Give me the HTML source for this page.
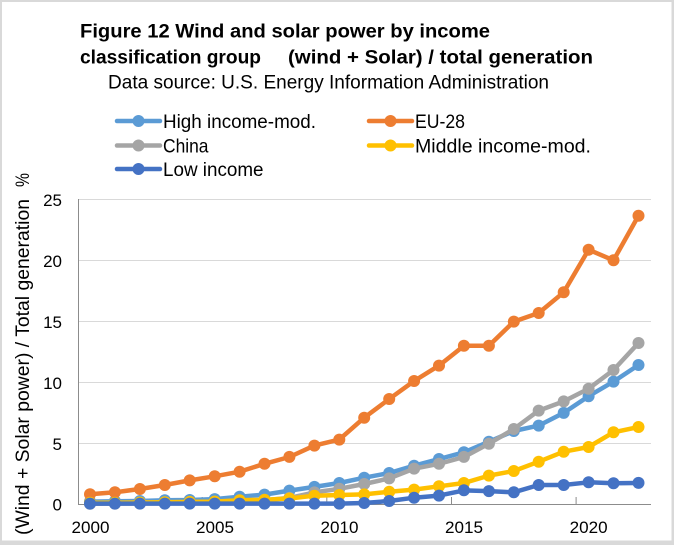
<!DOCTYPE html>
<html><head><meta charset="utf-8"><style>
html,body{margin:0;padding:0;background:#fff;}
svg{display:block;}
text{font-family:"Liberation Sans",Arial,sans-serif;fill:#000;}
</style></head><body>
<svg width="674" height="545" viewBox="0 0 674 545" xmlns="http://www.w3.org/2000/svg">
<rect x="0" y="0" width="674" height="545" fill="#d9d9d9"/>
<rect x="2" y="2" width="669.5" height="538.5" fill="#fff"/>

<!-- Title -->
<text x="80" y="37.5" font-size="19" font-weight="bold" textLength="410" lengthAdjust="spacingAndGlyphs">Figure 12  Wind and solar power by income</text>
<text x="80" y="63.5" font-size="19" font-weight="bold" textLength="181" lengthAdjust="spacingAndGlyphs">classification group</text>
<text x="288" y="63.5" font-size="19" font-weight="bold" textLength="305" lengthAdjust="spacingAndGlyphs">(wind + Solar) / total generation</text>
<text x="108" y="88.5" font-size="19" textLength="441" lengthAdjust="spacingAndGlyphs">Data source: U.S. Energy Information Administration</text>

<!-- Legend -->
<g stroke-width="4.5" stroke-linecap="round">
<line x1="117" y1="121" x2="160" y2="121" stroke="#5B9BD5"/>
<line x1="117" y1="145.5" x2="160" y2="145.5" stroke="#A5A5A5"/>
<line x1="117" y1="169" x2="160" y2="169" stroke="#4472C4"/>
<line x1="369" y1="121" x2="412" y2="121" stroke="#ED7D31"/>
<line x1="369" y1="145.5" x2="412" y2="145.5" stroke="#FFC000"/>
</g>
<circle cx="138.5" cy="121" r="6" fill="#5B9BD5"/>
<circle cx="138.5" cy="145.5" r="6" fill="#A5A5A5"/>
<circle cx="138.5" cy="169" r="6" fill="#4472C4"/>
<circle cx="390.5" cy="121" r="6" fill="#ED7D31"/>
<circle cx="390.5" cy="145.5" r="6" fill="#FFC000"/>
<text x="163" y="128" font-size="19.5" textLength="153" lengthAdjust="spacingAndGlyphs">High income-mod.</text>
<text x="163" y="152.5" font-size="19.5" textLength="45.5" lengthAdjust="spacingAndGlyphs">China</text>
<text x="163" y="176" font-size="19.5" textLength="100.5" lengthAdjust="spacingAndGlyphs">Low income</text>
<text x="415" y="128" font-size="19.5" textLength="50" lengthAdjust="spacingAndGlyphs">EU-28</text>
<text x="415" y="152.5" font-size="19.5" textLength="176" lengthAdjust="spacingAndGlyphs">Middle income-mod.</text>

<!-- Y axis label -->
<text transform="translate(29,535) rotate(-90)" x="0" y="0" font-size="19" textLength="336" lengthAdjust="spacingAndGlyphs">(Wind + Solar power) / Total generation</text>
<text transform="translate(29,187) rotate(-90)" x="0" y="0" font-size="19" textLength="14" lengthAdjust="spacingAndGlyphs">%</text>

<!-- Gridlines -->
<g stroke="#d9d9d9" stroke-width="1">
<line x1="78" y1="199.5" x2="651" y2="199.5"/>
<line x1="78" y1="260.5" x2="651" y2="260.5"/>
<line x1="78" y1="321.5" x2="651" y2="321.5"/>
<line x1="78" y1="382.5" x2="651" y2="382.5"/>
<line x1="78" y1="443.5" x2="651" y2="443.5"/>
</g>
<!-- Axes -->
<g stroke="#8c8c8c" stroke-width="1">
<line x1="78.5" y1="199" x2="78.5" y2="504.5"/>
<line x1="78" y1="504.5" x2="651" y2="504.5"/>
<line x1="202.2" y1="497" x2="202.2" y2="504.5"/>
<line x1="326.8" y1="497" x2="326.8" y2="504.5"/>
<line x1="451.5" y1="497" x2="451.5" y2="504.5"/>
<line x1="576.1" y1="497" x2="576.1" y2="504.5"/>
</g>

<!-- Y tick labels -->
<g font-size="17" text-anchor="end">
<text x="62" y="206">25</text>
<text x="62" y="267">20</text>
<text x="62" y="328">15</text>
<text x="62" y="389">10</text>
<text x="62" y="450">5</text>
<text x="62" y="510.5">0</text>
</g>
<!-- X tick labels -->
<g font-size="17" text-anchor="middle">
<text x="90.5" y="533" textLength="38" lengthAdjust="spacingAndGlyphs">2000</text>
<text x="215" y="533" textLength="38" lengthAdjust="spacingAndGlyphs">2005</text>
<text x="339.5" y="533" textLength="38" lengthAdjust="spacingAndGlyphs">2010</text>
<text x="464" y="533" textLength="38" lengthAdjust="spacingAndGlyphs">2015</text>
<text x="588.6" y="533" textLength="38" lengthAdjust="spacingAndGlyphs">2020</text>
</g>

<!-- Series -->
<g fill="none" stroke-width="4.5" stroke-linejoin="round" stroke-linecap="round">
<polyline stroke="#5B9BD5" points="90,501.6 114.9,501.3 139.9,501 164.8,500.3 189.7,500 214.7,499.1 239.6,496.7 264.5,494.6 289.4,490.6 314.4,486.9 339.3,483 364.2,477.7 389.2,473 414.1,465.7 439,459 464,452.3 488.9,441.7 513.8,431 538.7,425.6 563.7,412.9 588.6,396.2 613.5,381.6 638.5,365"/>
<polyline stroke="#ED7D31" points="90,494.3 114.9,492.3 139.9,489 164.8,485 189.7,480.4 214.7,476.3 239.6,471.7 264.5,463.8 289.4,457 314.4,445.6 339.3,439.6 364.2,417.7 389.2,399 414.1,381 439,365.6 464,345.7 488.9,345.7 513.8,321.6 538.7,313 563.7,292.3 588.6,249.7 613.5,260.3 638.5,215.7"/>
<polyline stroke="#A5A5A5" points="90,503.8 114.9,503.6 139.9,503.4 164.8,503.2 189.7,502.8 214.7,502.4 239.6,501.6 264.5,500.3 289.4,497.9 314.4,492.4 339.3,488.8 364.2,484 389.2,478.4 414.1,468.7 439,463.8 464,457 488.9,443.7 513.8,429 538.7,410.6 563.7,401.4 588.6,388.7 613.5,370 638.5,343"/>
<polyline stroke="#FFC000" points="90,502.8 114.9,502.8 139.9,502.5 164.8,502.2 189.7,501.9 214.7,501.6 239.6,500.3 264.5,499.7 289.4,498.5 314.4,495.7 339.3,495 364.2,494.4 389.2,491.8 414.1,489.6 439,486.3 464,483 488.9,475.6 513.8,471 538.7,461.7 563.7,451.7 588.6,447 613.5,432.3 638.5,427"/>
<polyline stroke="#4472C4" points="90,503.6 114.9,503.6 139.9,503.6 164.8,503.6 189.7,503.6 214.7,503.6 239.6,503.6 264.5,503.6 289.4,503.6 314.4,503.6 339.3,503.6 364.2,503 389.2,501 414.1,497.7 439,495.6 464,490.4 488.9,491.1 513.8,492.3 538.7,485 563.7,485 588.6,482.3 613.5,483.3 638.5,482.9"/>
</g>
</svg>
<script>
(function(){
var xs=[];for(var i=0;i<23;i++)xs.push(90+24.93*i);
function Y(v){return 504-12.19*v;}
var S=[
["#5B9BD5",[0.2,0.22,0.25,0.3,0.33,0.4,0.6,0.77,1.1,1.4,1.72,2.16,2.54,3.14,3.69,4.24,5.11,5.99,6.43,7.47,8.84,10.04,11.4]],
["#ED7D31",[0.8,0.96,1.23,1.56,1.94,2.27,2.65,3.3,3.86,4.79,5.28,7.08,8.61,10.09,11.35,12.99,12.99,14.96,15.67,17.37,20.86,19.99,23.65]],
["#A5A5A5",[0.02,0.03,0.05,0.07,0.1,0.13,0.2,0.3,0.5,0.95,1.25,1.64,2.1,2.9,3.3,3.86,4.95,6.15,7.66,8.42,9.46,10.99,13.21]],
["#FFC000",[0.1,0.1,0.12,0.15,0.17,0.2,0.3,0.35,0.45,0.68,0.74,0.79,1.0,1.18,1.45,1.72,2.33,2.71,3.47,4.29,4.68,5.88,6.32]],
["#4472C4",[0.03,0.03,0.03,0.03,0.03,0.03,0.03,0.03,0.03,0.03,0.03,0.08,0.25,0.52,0.69,1.12,1.06,0.96,1.56,1.56,1.78,1.7,1.73]]
];
var ns="http://www.w3.org/2000/svg";
var polys=document.querySelectorAll("polyline");
for(var s=0;s<S.length;s++){
 var g=document.createElementNS(ns,"g");
 g.setAttribute("fill",S[s][0]);
 for(var j=0;j<23;j++){
  var c=document.createElementNS(ns,"circle");
  c.setAttribute("cx",xs[j].toFixed(1));
  c.setAttribute("cy",Y(S[s][1][j]).toFixed(1));
  c.setAttribute("r","6");
  g.appendChild(c);
 }
 polys[s].parentNode.insertBefore(g,polys[s].nextSibling);
}
})();
</script>
</body></html>
